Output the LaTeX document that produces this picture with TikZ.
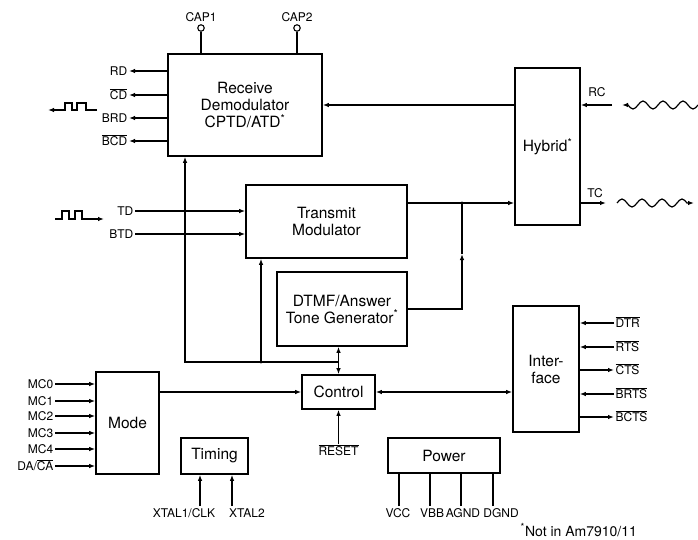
\documentclass[tikz,border=0pt]{standalone}
\usepackage{fontspec}
\setmainfont{TeX Gyre Heros}
\usetikzlibrary{arrows.meta,positioning}
\newcommand{\nbar}[1]{$\overline{\mbox{#1}}$}

\begin{document}
\begin{tikzpicture}[
    x=1pt, y=1pt,
    >={Latex[length=6pt,width=4.5pt]},
    blockbox/.style={
        draw,
        line width=1.6pt,
        align=center,
        inner sep=2pt,
        font=\fontsize{15.5}{17}\selectfont
    },
    pinlabel/.style={
        inner sep=1.5pt,
        text height=10pt,
        text depth=1pt,
        font=\fontsize{12}{13}\selectfont
    },
    sig/.style={line width=1.2pt},
    capring/.style={draw, circle, line width=1.1pt, minimum size=6.5pt, inner sep=0pt}
]
\useasboundingbox (0,0) rectangle (698,-539);

% --- BLOCKS ---
\node[blockbox, minimum width=154, minimum height=102] (recv) at (245,-105)
{Receive\\Demodulator\\CPTD/ATD\textsuperscript{*}};
\node[blockbox, minimum width=65, minimum height=157] (hybrid) at (547.5,-146.5)
{Hybrid\textsuperscript{*}};
\node[blockbox, minimum width=161, minimum height=73] (xmit) at (326.5,-221.5)
{Transmit\\Modulator};
\node[blockbox, minimum width=130, minimum height=74] (dtmf) at (342,-309)
{DTMF/Answer\\Tone Generator\textsuperscript{*}};
\node[blockbox, minimum width=73, minimum height=34] (control) at (338.5,-392) {Control};
\node[blockbox, minimum width=66, minimum height=126] (iface) at (546,-369) {Inter-\\face};
\node[blockbox, minimum width=63, minimum height=102] (mode) at (127.5,-423) {Mode};
\node[blockbox, minimum width=67, minimum height=36] (timing) at (214.5,-456) {Timing};
\node[blockbox, minimum width=112, minimum height=35] (power) at (444,-455.5) {Power};

% --- RECEIVE SIDE ---
\node[capring] (capone) at (201,-28) {};
\node[pinlabel, above=0pt of capone] (caponelbl) {CAP1};
\draw[sig] (capone) -- (capone |- recv.north);
\node[capring] (captwo) at (297,-28) {};
\node[pinlabel, above=0pt of captwo] (captwolbl) {CAP2};
\draw[sig] (captwo) -- (captwo |- recv.north);

\foreach \nm/\yy/\txt in {rd/71/RD, cd/95/\nbar{CD}, brd/118/BRD, bcd/141/\nbar{BCD}} {
    \node[pinlabel, anchor=east] (\nm) at (129,-\yy) {\txt};
    \draw[sig,->] (recv.west |- \nm) -- (\nm.east);
}

% square wave out of BRD
\coordinate (brdwave) at (97,-110);
\coordinate (brdwaveend) at (48,-110);
\draw[sig,->] (brdwave) -- ++(-11,0) -- ++(0,7) -- ++(-9,0) -- ++(0,-7) -- ++(-5,0)
    -- ++(0,7) -- ++(-7,0) -- ++(0,-7) -- (brdwaveend);

% line side
\draw[sig,->] (recv.east -| hybrid.west) -- (recv.east);
\coordinate (rcin) at (612,-105);
\draw[sig,->] (rcin) -- (rcin -| hybrid.east);
\node[pinlabel, anchor=south] (rclbl) at (597,-99.5) {RC};
\coordinate (rcwave) at (698,-105);
\coordinate (rcwaveend) at (622,-105);
\draw[sig,->] (rcwave) sin ++(-5,-4) cos ++(-5,4) sin ++(-5,4) cos ++(-5,-4)
    sin ++(-5,-4) cos ++(-5,4) sin ++(-5,4) cos ++(-5,-4)
    sin ++(-5,-4) cos ++(-5,4) sin ++(-5,4) cos ++(-5,-4)
    sin ++(-5,-4) cos ++(-5,4) -- (rcwaveend);

% --- TRANSMIT SIDE ---
\foreach \nm/\yy/\txt in {td/211/TD, btd/234/BTD} {
    \node[pinlabel, anchor=east] (\nm) at (135,-\yy) {\txt};
    \draw[sig,->] (\nm.east) -- (\nm.east -| xmit.west);
}
\coordinate (tdwave) at (55,-219);
\coordinate (tdwaveend) at (104,-219);
\draw[sig,->] (tdwave) -- ++(7,0) -- ++(0,8) -- ++(7,0) -- ++(0,-8) -- ++(6,0)
    -- ++(0,8) -- ++(7,0) -- ++(0,-8) -- (tdwaveend);

\coordinate (txj) at (462,-203);
\draw[sig] (xmit.east |- txj) -- (txj);
\draw[sig,->] (txj) -- (txj -| hybrid.west);
\fill (txj) circle (1.6);
\coordinate (tcout) at (606,-203);
\draw[sig,->] (txj -| hybrid.east) -- (tcout);
\node[pinlabel, anchor=south] (tclbl) at (595,-200.5) {TC};
\coordinate (tcwave) at (617,-203);
\coordinate (tcwaveend) at (694,-203);
\draw[sig,->] (tcwave) sin ++(5,4) cos ++(5,-4) sin ++(5,-4) cos ++(5,4)
    sin ++(5,4) cos ++(5,-4) sin ++(5,-4) cos ++(5,4)
    sin ++(5,4) cos ++(5,-4) sin ++(5,-4) cos ++(5,4)
    sin ++(5,4) cos ++(5,-4) -- (tcwaveend);

\coordinate (dtmfup) at (462,-254);
\draw[sig,->] (dtmf.east) -| (dtmfup);
\draw[sig] (dtmfup) -- (txj);

% --- CONTROL BUS ---
\coordinate (cbus) at (338.5,-362);
\coordinate (rxbus) at (185,-362);
\coordinate (txbus) at (261,-362);
\draw[sig,<->] (control.north) -- (control.north |- dtmf.south);
\draw[sig,->] (cbus) -- (rxbus) -- (rxbus |- recv.south);
\draw[sig,->] (txbus) -- (txbus |- xmit.south);
\fill (txbus) circle (1.6);

\draw[sig,->] (mode.east |- control.west) -- (control.west);
\draw[sig,<->] (control.east) -- (control.east -| iface.west);

\node[pinlabel, anchor=north] (rst) at (338.5,-444) {\nbar{RESET}};
\draw[sig,->] (rst.north) -- (control.south);

% --- MODE INPUTS ---
\foreach \nm/\yy/\txt in {mczero/384/MC0, mcone/401/MC1, mctwo/416/MC2, mcthree/433/MC3,
                          mcfour/449/MC4, daca/466/{DA/\nbar{CA}}} {
    \node[pinlabel, anchor=east] (\nm) at (55,-\yy) {\txt};
    \draw[sig,->] (\nm.east) -- (\nm.east -| mode.west);
}

% --- INTERFACE ---
\foreach \nm/\yy/\txt in {dtr/323/\nbar{DTR}, rts/347/\nbar{RTS}, brts/394/\nbar{BRTS}} {
    \node[pinlabel, anchor=west] (\nm) at (614,-\yy) {\txt};
    \draw[sig,->] (\nm.west) -- (\nm.west -| iface.east);
}
\foreach \nm/\yy/\txt in {cts/370/\nbar{CTS}, bcts/417/\nbar{BCTS}} {
    \node[pinlabel, anchor=west] (\nm) at (614,-\yy) {\txt};
    \draw[sig,->] (\nm.west -| iface.east) -- (\nm.west);
}

% --- TIMING AND POWER ---
\node[pinlabel] (xtalone) at (184,-513) {XTAL1/CLK};
\node[pinlabel] (xtaltwo) at (247,-513) {XTAL2};
\coordinate (xonepin) at (200,-506);
\coordinate (xtwopin) at (232,-506);
\draw[sig,->] (xonepin) -- (xonepin |- timing.south);
\draw[sig,->] (xtwopin) -- (xtwopin |- timing.south);

\foreach \nm/\px/\lx/\txt in {vcc/399/398/VCC, vbb/430/432/VBB, agnd/461/463/AGND, dgnd/493/501/DGND} {
    \node[pinlabel] (\nm) at (\lx,-513) {\txt};
    \coordinate (\nm-pin) at (\px,-506);
    \draw[sig] (\nm-pin) -- (\nm-pin |- power.south);
}

\node[pinlabel, anchor=base west, font=\fontsize{14}{15}\selectfont] (note) at (519,-536)
{\textsuperscript{*}Not in Am7910/11};

\end{tikzpicture}
\end{document}
